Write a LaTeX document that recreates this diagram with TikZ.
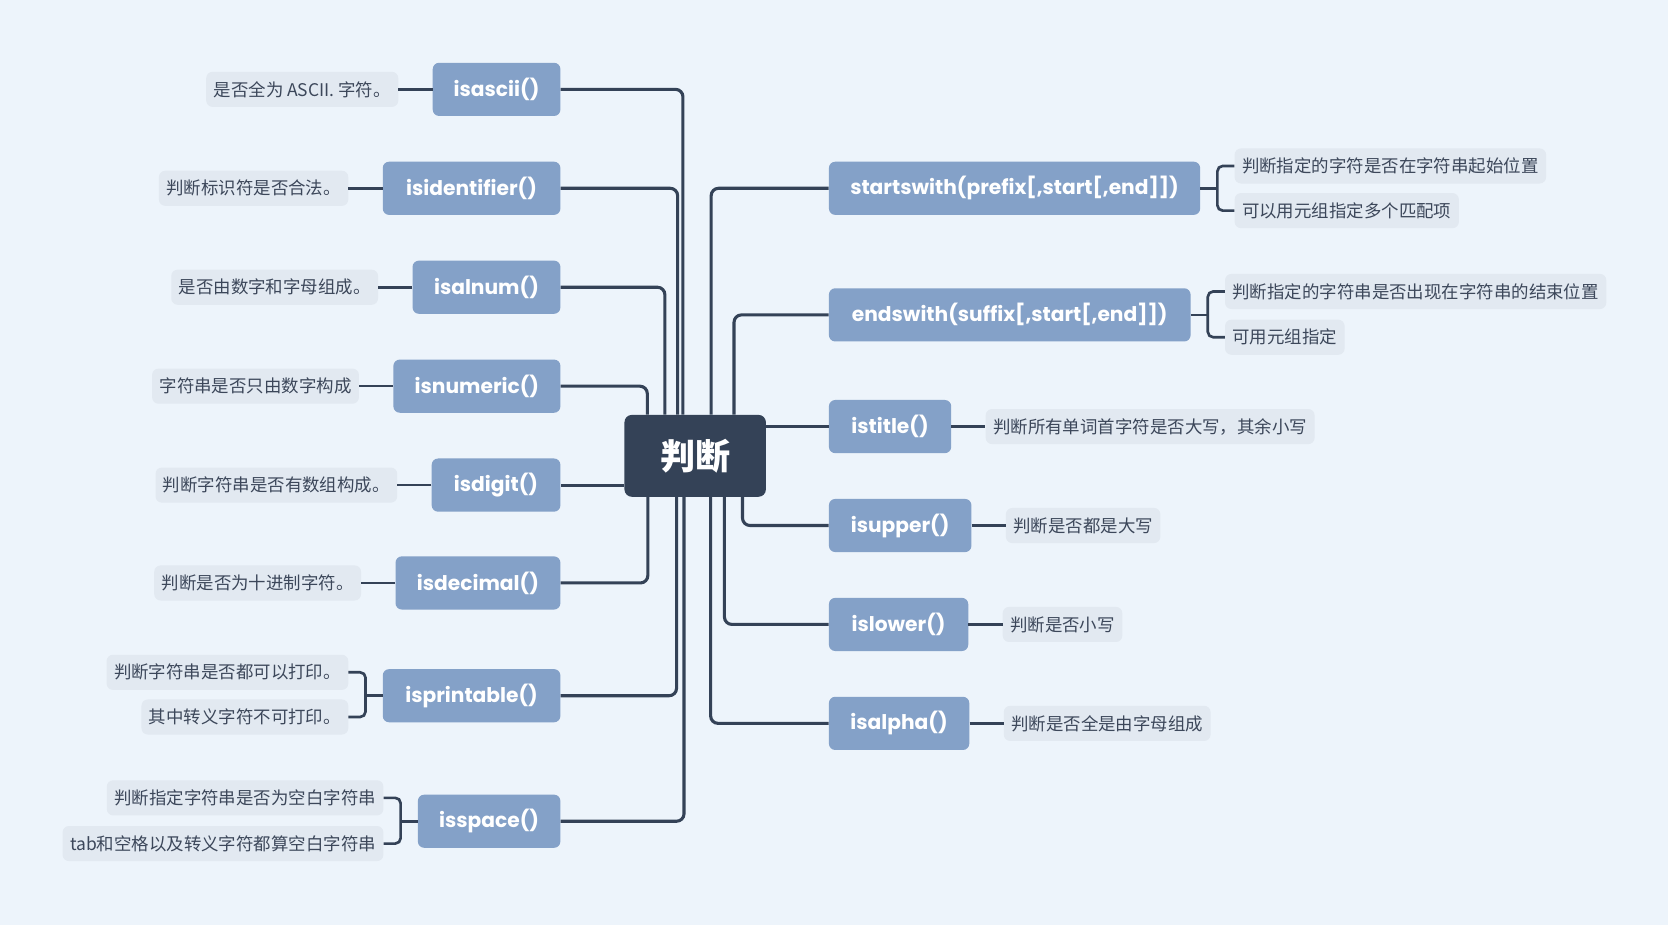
\documentclass[tikz,border=0pt]{standalone}
\usepackage{fontspec}
\setmainfont{Noto Sans CJK SC}
\newfontfamily\funcfont{Poppins}
\usetikzlibrary{positioning}

\definecolor{bgblue}{HTML}{EDF4FB}
\definecolor{hubdark}{HTML}{344257}
\definecolor{funcblue}{HTML}{84A1C8}
\definecolor{notegray}{HTML}{E2E9F1}
\definecolor{notetext}{HTML}{3C475A}

\begin{document}
\begin{tikzpicture}[
    x=1pt,
    y=-1pt,
    node distance=32pt,
    hub/.style={
		rectangle,
		rounded corners=7pt,
		fill=hubdark,
		text=white,
		font=\fontsize{33}{36}\selectfont\bfseries,
		minimum width=133pt,
		minimum height=77pt,
		inner sep=0pt
	},
	func/.style={
		rectangle,
		rounded corners=6pt,
		fill=funcblue,
		text=white,
		font=\funcfont\fontsize{19}{22}\selectfont\bfseries,
		minimum height=50pt,
		inner sep=0pt
	},
	note/.style={
		rectangle,
		rounded corners=6pt,
		fill=notegray,
		text=notetext,
		font=\fontsize{16.4}{19}\selectfont,
		minimum height=33pt,
		inner xsep=7pt,
		inner ysep=0pt
	},
	link/.style={
		draw=hubdark,
		line width=2.9pt,
		rounded corners=7pt
	},
	leaf/.style={
		draw=hubdark,
		line width=2.5pt,
		rounded corners=5pt
	}
  ]

% // background
\fill[bgblue] (0,0) rectangle (1568,870);
\useasboundingbox (0,0) rectangle (1568,870);

\node [hub] (hub) at (653.5,428.5) {判断};

% left branches
\node [func, anchor=east, minimum width=120pt] (ascii) at (527,84) {isascii()};
\node [func, anchor=east, minimum width=167pt] (ident) at (527,177) {isidentifier()};
\node [func, anchor=east, minimum width=139pt] (alnum) at (527,270) {isalnum()};
\node [func, anchor=east, minimum width=157pt] (numeric) at (527,363) {isnumeric()};
\node [func, anchor=east, minimum width=121pt] (digit) at (527,456) {isdigit()};
\node [func, anchor=east, minimum width=155pt] (decimal) at (527,548) {isdecimal()};
\node [func, anchor=east, minimum width=167pt] (printable) at (527,654) {isprintable()};
\node [func, anchor=east, minimum width=134pt] (space) at (527,772) {isspace()};

% right branches
\node [func, anchor=west, minimum width=349pt] (starts) at (779,177) {startswith(prefix[,start[,end]])};
\node [func, anchor=west, minimum width=340pt] (ends) at (779,296) {endswith(suffix[,start[,end]])};
\node [func, anchor=west, minimum width=115pt] (title) at (779,401) {istitle()};
\node [func, anchor=west, minimum width=134pt] (upper) at (779,494) {isupper()};
\node [func, anchor=west, minimum width=131pt] (lower) at (779,587) {islower()};
\node [func, anchor=west, minimum width=132pt] (alpha) at (779,680) {isalpha()};

% hub to branches
\draw [link] ([xshift=-11.5pt]hub.north) |- (ascii.east);
\draw [link] ([xshift=-16.5pt]hub.north) |- (ident.east);
\draw [link] ([xshift=-28.5pt]hub.north) |- (alnum.east);
\draw [link] ([xshift=-45pt]hub.north) |- (numeric.east);
\draw [link] (hub.west |- digit.east) -- (digit.east);
\draw [link] ([xshift=-44.5pt]hub.south) |- (decimal.east);
\draw [link] ([xshift=-17.5pt]hub.south) |- (printable.east);
\draw [link] ([xshift=-10.5pt]hub.south) |- (space.east);

\draw [link] ([xshift=15pt]hub.north) |- (starts.west);
\draw [link] ([xshift=36.5pt]hub.north) |- (ends.west);
\draw [link] (hub.east |- title.west) -- (title.west);
\draw [link] ([xshift=44.5pt]hub.south) |- (upper.west);
\draw [link] ([xshift=27.5pt]hub.south) |- (lower.west);
\draw [link] ([xshift=14.5pt]hub.south) |- (alpha.west);

% left notes
\node [note, left=of ascii] (asciinote) {是否全为 ASCII. 字符。};
\node [note, left=of ident] (identnote) {判断标识符是否合法。};
\node [note, left=of alnum] (alnumnote) {是否由数字和字母组成。};
\node [note, left=of numeric] (numericnote) {字符串是否只由数字构成};
\node [note, left=of digit] (digitnote) {判断字符串是否有数组构成。};
\node [note, left=of decimal] (decimalnote) {判断是否为十进制字符。};
\node [note, left=of printable, yshift=22pt] (printnote1) {判断字符串是否都可以打印。};
\node [note, left=of printable, yshift=-20pt] (printnote2) {其中转义字符不可打印。};
\node [note, left=of space, yshift=22pt] (spacenote1) {判断指定字符串是否为空白字符串};
\node [note, left=of space, yshift=-21pt] (spacenote2) {tab和空格以及转义字符都算空白字符串};

% right notes
\node [note, right=of starts, yshift=21pt] (startsnote1) {判断指定的字符是否在字符串起始位置};
\node [note, right=of starts, yshift=-21pt] (startsnote2) {可以用元组指定多个匹配项};
\node [note, right=of ends, yshift=22pt] (endsnote1) {判断指定的字符串是否出现在字符串的结束位置};
\node [note, right=of ends, yshift=-21pt] (endsnote2) {可用元组指定};
\node [note, right=of title] (titlenote) {判断所有单词首字符是否大写，其余小写};
\node [note, right=of upper] (uppernote) {判断是否都是大写};
\node [note, right=of lower] (lowernote) {判断是否小写};
\node [note, right=of alpha] (alphanote) {判断是否全是由字母组成};

% branches to notes
\draw [leaf] (ascii.west) -- (asciinote.east);
\draw [leaf] (ident.west) -- (identnote.east);
\draw [leaf] (alnum.west) -- (alnumnote.east);
\draw [leaf] (numeric.west) -- (numericnote.east);
\draw [leaf] (digit.west) -- (digitnote.east);
\draw [leaf] (decimal.west) -- (decimalnote.east);
\draw [leaf] (printable.west) -- ++(-16,0);
\draw [leaf] (printnote1.east) -| ([xshift=-16pt]printable.west) |- (printnote2.east);
\draw [leaf] (space.west) -- ++(-16,0);
\draw [leaf] (spacenote1.east) -| ([xshift=-16pt]space.west) |- (spacenote2.east);

\draw [leaf] (starts.east) -- ++(16,0);
\draw [leaf] (startsnote1.west) -| ([xshift=16pt]starts.east) |- (startsnote2.west);
\draw [leaf] (ends.east) -- ++(16,0);
\draw [leaf] (endsnote1.west) -| ([xshift=16pt]ends.east) |- (endsnote2.west);
\draw [leaf] (title.east) -- (titlenote.west);
\draw [leaf] (upper.east) -- (uppernote.west);
\draw [leaf] (lower.east) -- (lowernote.west);
\draw [leaf] (alpha.east) -- (alphanote.west);

\end{tikzpicture}
\end{document}
